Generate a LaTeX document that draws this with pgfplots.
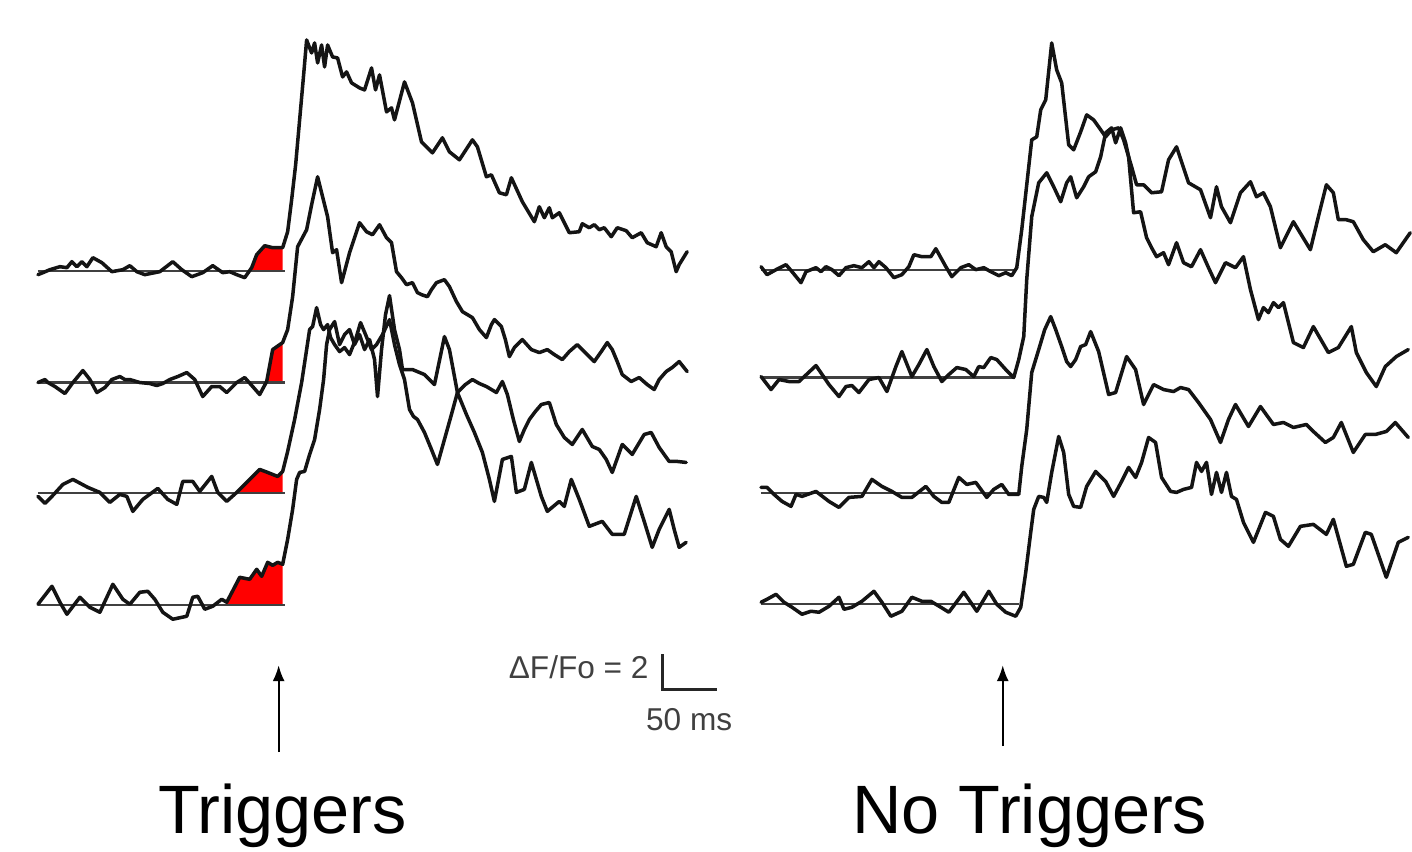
\documentclass[border=0pt]{standalone}
\usepackage{pgfplots}
\pgfplotsset{compat=1.18}
\usetikzlibrary{arrows.meta}
\usepackage{fontspec}
\setmainfont{Liberation Sans}

% traces are digitised in picture pixels (x right, y down)
\pgfplotsset{
  trace/.style={black!92, line width=1pt, line join=round, line cap=round, no markers},
  base/.style={black!75, line width=0.6pt, no markers},
  trig/.style={fill=red, draw=none, no markers},
}

\begin{document}
\begin{tikzpicture}
\begin{axis}[
    hide axis,
    scale only axis,
    width=141.2mm,
    height=85.3mm,
    xmin=0, xmax=1412,
    ymin=0, ymax=853,
    y dir=reverse,
    clip=false,
]
\path (axis cs:0,0) -- (axis cs:1412,853);

% --- red trigger areas (left panel) ---
\addplot[trig] coordinates {(248,271)(252,268)(257,255)(265,246)(273,248)(283,248)(283,271)} -- cycle;
\addplot[trig] coordinates {(267,382)(273,350)(283,343)(283,382)} -- cycle;
\addplot[trig] coordinates {(236,494)(237,493)(250,480)(260,470)(268,473)(278,477)(283,472)(283,494)} -- cycle;
\addplot[trig] coordinates {(226,606)(227,603)(240,578)(250,580)(257,570)(262,577)(268,563)(273,566)(278,563)(283,565)(283,606)} -- cycle;

% --- baselines ---
\addplot[base] coordinates {(38,271)(285,271)};
\addplot[base] coordinates {(38,383)(285,383)};
\addplot[base] coordinates {(38,494)(285,494)};
\addplot[base] coordinates {(38,606)(285,606)};
\addplot[base] coordinates {(762,270)(1018,270)};
\addplot[base] coordinates {(762,378)(1016,378)};
\addplot[base] coordinates {(762,494)(1020,494)};
\addplot[base] coordinates {(762,605)(1020,605)};

% --- left panel: Triggers ---
\addplot[trace] coordinates {(38,275)(43,273)(50,270)(60,267)(67,268)(72,262)(77,267)(82,262)(87,267)(93,258)(102,263)(112,272)(123,270)(130,266)(137,272)(145,275)(160,272)(173,262)(182,270)(192,277)(203,273)(213,266)(223,273)(230,272)(237,275)(245,278)(252,268)(257,255)(265,246)(273,248)(283,248)(288,232)(292,200)(296,165)(300,120)(304,75)(307,40)(312,53)(315,43)(318,63)(322,45)(325,67)(328,45)(333,57)(338,58)(343,77)(347,72)(352,83)(360,88)(365,90)(372,68)(376,90)(380,75)(387,112)(392,108)(395,120)(405,82)(413,103)(422,142)(433,153)(443,138)(450,152)(460,160)(473,140)(478,147)(487,177)(492,175)(500,193)(507,195)(512,178)(523,202)(535,222)(540,207)(545,218)(550,208)(553,218)(560,213)(570,233)(580,232)(583,224)(590,228)(595,225)(600,230)(605,228)(612,237)(618,228)(627,231)(633,238)(642,233)(648,243)(657,247)(662,233)(667,247)(672,252)(677,272)(680,265)(688,252)};
\addplot[trace] coordinates {(38,383)(45,380)(48,383)(55,387)(65,394)(73,383)(83,371)(90,380)(97,393)(105,388)(112,380)(120,377)(125,380)(130,380)(140,383)(150,384)(157,386)(163,384)(170,380)(178,377)(187,373)(195,380)(203,397)(212,387)(220,387)(227,393)(237,383)(245,378)(253,387)(260,395)(267,382)(273,350)(283,343)(288,330)(293,297)(298,247)(307,230)(312,205)(318,177)(323,197)(328,217)(333,253)(337,250)(342,283)(350,253)(360,223)(367,232)(373,235)(380,225)(387,238)(392,243)(397,272)(402,278)(407,285)(413,283)(418,293)(422,295)(428,297)(432,290)(437,283)(445,280)(450,287)(457,302)(463,312)(468,315)(473,318)(480,330)(487,338)(492,325)(495,320)(502,327)(506,340)(510,357)(515,348)(523,340)(532,350)(540,353)(548,350)(555,355)(563,360)(570,352)(578,345)(585,352)(595,362)(602,352)(608,343)(613,350)(618,362)(623,375)(632,382)(640,378)(648,385)(655,390)(660,380)(667,372)(673,368)(680,362)(688,372)};
\addplot[trace] coordinates {(38,497)(45,504)(52,497)(63,485)(73,480)(88,488)(100,493)(110,503)(120,495)(127,497)(133,512)(143,500)(158,489)(168,500)(177,505)(183,482)(193,482)(200,492)(212,477)(218,493)(227,502)(237,493)(250,480)(260,470)(268,473)(278,477)(283,472)(288,452)(295,420)(302,383)(307,350)(310,330)(313,327)(317,308)(321,325)(324,330)(328,325)(331,338)(335,345)(340,352)(345,348)(350,355)(356,340)(361,323)(366,335)(372,350)(377,345)(383,335)(390,320)(395,345)(400,365)(405,380)(410,410)(414,417)(418,420)(425,433)(432,450)(438,465)(445,440)(452,415)(458,393)(466,385)(473,380)(480,384)(487,387)(492,390)(497,393)(503,382)(508,395)(514,420)(520,442)(525,430)(530,420)(536,412)(542,405)(550,403)(557,425)(565,438)(573,445)(583,430)(593,447)(600,450)(607,460)(613,473)(623,445)(633,455)(645,435)(652,433)(660,448)(670,462)(678,462)(687,463)};
\addplot[trace] coordinates {(38,605)(52,587)(60,603)(67,615)(80,598)(90,608)(100,613)(113,585)(123,600)(130,605)(140,593)(148,592)(155,600)(163,613)(173,620)(187,617)(193,598)(198,597)(205,610)(213,607)(222,600)(227,603)(240,578)(250,580)(257,570)(262,577)(268,563)(273,566)(278,563)(283,565)(288,540)(293,510)(297,480)(300,473)(305,472)(310,455)(315,440)(320,410)(324,380)(327,345)(330,330)(335,322)(340,345)(345,335)(350,330)(355,345)(360,335)(365,350)(370,340)(375,360)(378,397)(382,350)(386,315)(390,296)(395,330)(400,350)(403,370)(413,370)(425,375)(435,385)(445,337)(450,350)(458,393)(467,415)(475,433)(483,453)(490,480)(495,502)(503,460)(512,457)(517,493)(525,490)(532,463)(542,497)(548,512)(560,502)(565,507)(572,480)(580,500)(590,527)(603,522)(613,535)(625,535)(637,497)(645,522)(653,548)(660,530)(670,510)(675,530)(680,548)(687,543)};

% --- right panel: No Triggers ---
\addplot[trace] coordinates {(762,267)(768,275)(777,270)(787,265)(793,272)(802,283)(807,272)(817,268)(822,272)(827,267)(833,270)(840,276)(847,268)(855,266)(863,268)(870,262)(875,268)(880,262)(887,268)(895,278)(903,275)(910,267)(915,255)(923,257)(932,257)(937,249)(942,258)(947,267)(953,277)(962,268)(970,265)(977,270)(985,268)(992,272)(1000,276)(1007,273)(1013,276)(1018,268)(1023,230)(1028,185)(1033,140)(1038,137)(1042,110)(1047,100)(1053,43)(1058,70)(1063,83)(1070,145)(1075,150)(1082,132)(1088,115)(1095,120)(1100,127)(1107,137)(1113,130)(1120,128)(1125,140)(1133,167)(1138,185)(1145,185)(1153,193)(1163,192)(1170,160)(1178,147)(1185,168)(1190,183)(1202,190)(1212,218)(1218,187)(1223,207)(1232,223)(1242,193)(1252,182)(1258,197)(1265,193)(1272,207)(1282,248)(1295,222)(1312,250)(1320,217)(1328,185)(1335,193)(1340,220)(1348,220)(1355,222)(1365,240)(1375,252)(1387,245)(1398,253)(1412,233)};
\addplot[trace] coordinates {(762,377)(772,390)(780,380)(790,382)(800,382)(817,366)(830,385)(840,397)(847,387)(853,386)(860,393)(870,380)(880,378)(888,392)(897,367)(903,352)(913,377)(920,365)(928,350)(935,367)(943,382)(950,375)(958,368)(967,370)(975,377)(980,367)(985,368)(992,358)(998,360)(1007,370)(1015,378)(1020,360)(1025,337)(1028,280)(1033,217)(1040,183)(1048,173)(1055,187)(1062,202)(1068,183)(1072,177)(1078,198)(1085,187)(1090,177)(1097,172)(1102,157)(1107,133)(1113,128)(1117,143)(1122,128)(1127,143)(1130,157)(1135,213)(1142,212)(1148,238)(1153,248)(1158,257)(1165,253)(1170,265)(1178,243)(1185,263)(1193,267)(1202,250)(1210,268)(1217,283)(1227,263)(1237,268)(1245,257)(1252,290)(1260,320)(1265,308)(1270,313)(1275,303)(1280,308)(1285,303)(1295,343)(1305,348)(1315,327)(1330,353)(1340,348)(1353,327)(1358,353)(1368,373)(1378,387)(1387,367)(1398,357)(1410,350)};
\addplot[trace] coordinates {(762,488)(768,488)(775,495)(783,502)(792,507)(797,495)(803,497)(817,492)(830,502)(840,508)(850,498)(863,497)(873,480)(883,487)(893,492)(903,498)(913,498)(927,487)(935,497)(943,503)(950,503)(960,478)(968,485)(977,483)(988,498)(995,490)(1003,485)(1010,495)(1020,495)(1023,467)(1028,430)(1033,373)(1040,350)(1046,330)(1052,317)(1057,330)(1063,347)(1068,362)(1072,367)(1077,360)(1082,347)(1087,345)(1092,332)(1100,352)(1110,395)(1117,393)(1128,357)(1137,370)(1145,405)(1155,385)(1165,390)(1175,392)(1182,388)(1190,390)(1200,403)(1212,420)(1222,443)(1230,420)(1237,405)(1250,427)(1262,407)(1275,425)(1285,423)(1295,428)(1308,425)(1315,432)(1327,443)(1335,438)(1343,423)(1355,453)(1367,435)(1377,435)(1388,432)(1397,423)(1410,438)};
\addplot[trace] coordinates {(762,603)(768,600)(777,595)(785,603)(793,608)(803,615)(812,612)(820,613)(830,607)(840,598)(845,610)(853,608)(863,602)(875,592)(883,603)(892,617)(903,612)(913,598)(923,602)(932,602)(942,608)(950,613)(965,593)(978,612)(990,592)(998,605)(1007,613)(1017,617)(1022,608)(1027,573)(1032,533)(1035,510)(1040,497)(1045,498)(1048,503)(1053,473)(1060,437)(1065,453)(1070,495)(1075,507)(1082,508)(1088,487)(1097,472)(1107,482)(1115,497)(1123,482)(1130,468)(1137,478)(1143,463)(1150,438)(1157,443)(1163,478)(1172,492)(1178,493)(1185,490)(1193,488)(1198,463)(1203,472)(1208,463)(1213,495)(1218,473)(1223,493)(1228,473)(1233,497)(1238,500)(1245,523)(1255,543)(1267,513)(1275,517)(1282,540)(1290,547)(1302,527)(1315,525)(1328,535)(1335,520)(1348,567)(1355,565)(1367,533)(1373,535)(1388,578)(1400,543)(1410,538)};

% --- scale bar ---
\addplot[black!85, line width=0.8pt, line join=miter, no markers] coordinates {(663,655)(663,690)(718,690)};
\node[anchor=east, font=\fontsize{9}{10}\selectfont, text=black!75, inner sep=0pt] at (axis cs:650,668) {ΔF/Fo = 2};
\node[anchor=center, font=\fontsize{9}{10}\selectfont, text=black!75, inner sep=0pt] at (axis cs:690,720) {50 ms};

% --- stimulus arrows ---
\addplot[black, line width=0.55pt, -{Latex[length=1.6mm,width=1.2mm]}, no markers] coordinates {(279,753)(279,666)};
\addplot[black, line width=0.55pt, -{Latex[length=1.6mm,width=1.2mm]}, no markers] coordinates {(1004,747)(1004,666)};

% --- panel labels ---
\node[anchor=base, font=\fontsize{19.5}{22}\selectfont, inner sep=0pt] at (axis cs:283,835) {Triggers};
\node[anchor=base, font=\fontsize{19.5}{22}\selectfont, inner sep=0pt] at (axis cs:1031,835) {No Triggers};
\end{axis}
\end{tikzpicture}
\end{document}
